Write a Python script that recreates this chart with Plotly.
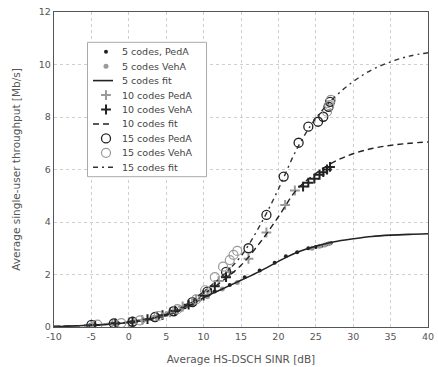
import plotly.graph_objects as go

# ---- data ----
fit_x = [-10, -7.5, -5, -2.5, 0, 2.5, 5, 7.5, 10, 12.5, 15, 17.5, 20, 22.5, 25, 27.5, 30, 32.5, 35, 37.5, 40]
fit5 = [0.02, 0.04, 0.07, 0.11, 0.17, 0.28, 0.45, 0.72, 1.12, 1.45, 1.78, 2.12, 2.5, 2.85, 3.08, 3.25, 3.36, 3.45, 3.5, 3.53, 3.55]
fit10 = [0.02, 0.04, 0.07, 0.11, 0.18, 0.3, 0.48, 0.78, 1.25, 1.75, 2.35, 3.2, 4.2, 5.25, 5.85, 6.3, 6.6, 6.8, 6.92, 7.0, 7.05]
fit15 = [0.02, 0.04, 0.07, 0.11, 0.18, 0.3, 0.5, 0.82, 1.35, 1.95, 2.7, 3.85, 5.25, 6.8, 7.95, 8.75, 9.35, 9.8, 10.1, 10.32, 10.45]

c5_peda_x = [-5.2, -2.0, 0.3, 2.0, 4.0, 5.8, 7.5, 9.5, 11.5, 13.5, 15.5, 17.5, 19.5, 21.0, 22.5, 24.0, 25.0, 25.8, 26.5, 27.0]
c5_peda_y = [0.07, 0.12, 0.18, 0.25, 0.38, 0.55, 0.75, 1.05, 1.35, 1.6, 1.9, 2.15, 2.45, 2.7, 2.85, 3.0, 3.05, 3.1, 3.15, 3.2]
c5_veha_x = [-4.8, -1.5, 0.8, 3.0, 5.0, 7.0, 8.8, 10.5, 12.5, 14.5, 24.5, 25.5, 26.2, 26.8]
c5_veha_y = [0.08, 0.14, 0.2, 0.32, 0.48, 0.68, 0.9, 1.15, 1.45, 1.7, 3.0, 3.08, 3.12, 3.18]

c10_peda_x = [-5.0, -2.2, 0.0, 1.8, 3.8, 5.5, 7.2, 9.0, 10.5, 12.0, 13.5, 16.0, 18.4, 20.9, 22.2]
c10_peda_y = [0.07, 0.13, 0.18, 0.27, 0.42, 0.56, 0.78, 1.05, 1.35, 1.75, 2.1, 2.6, 3.6, 4.65, 5.2]
c10_veha_x = [-4.5, -1.8, 0.5, 2.5, 4.5, 6.2, 8.0, 10.0, 11.5, 13.0, 23.3, 24.0, 24.8, 25.5, 26.0, 26.5, 26.9]
c10_veha_y = [0.08, 0.14, 0.2, 0.3, 0.45, 0.62, 0.85, 1.2, 1.55, 1.9, 5.35, 5.5, 5.65, 5.8, 5.9, 6.0, 6.1]

c15_peda_x = [-5.0, -2.0, 0.5, 3.5, 6.0, 8.5, 10.5, 13.0, 16.0, 18.4, 20.7, 22.7, 24.0, 25.3, 26.0, 26.7, 26.9]
c15_peda_y = [0.08, 0.14, 0.2, 0.38, 0.6, 0.95, 1.35, 2.1, 3.0, 4.27, 5.73, 7.02, 7.63, 7.82, 8.01, 8.39, 8.58]
c15_veha_x = [-4.2, -1.0, 1.5, 4.0, 6.5, 9.0, 10.2, 11.5, 12.6, 13.5, 14.0, 14.5, 26.5, 26.8, 27.0]
c15_veha_y = [0.09, 0.15, 0.25, 0.42, 0.68, 1.05, 1.4, 1.9, 2.3, 2.55, 2.75, 2.9, 8.2, 8.45, 8.65]

x_ticks = [-10, -5, 0, 5, 10, 15, 20, 25, 30, 35, 40]
y_ticks = [0, 2, 4, 6, 8, 10, 12]

legend_labels = ["5 codes, PedA", "5 codes VehA", "5 codes fit",
                 "10 codes PedA", "10 codes VehA", "10 codes fit",
                 "15 codes PedA", "15 codes VehA", "15 codes fit"]

FONT = "DejaVu Sans, Verdana, sans-serif"
DARK = "#222222"
GREY = "#9a9a9a"
TXT = "#555555"

XR = [-10, 40]
YR = [0, 12]

# style per series (same order as legend_labels)
styles = [
    dict(kind="m", marker=dict(symbol="circle", size=4, color=DARK)),
    dict(kind="m", marker=dict(symbol="circle", size=5, color=GREY)),
    dict(kind="l", line=dict(color=DARK, width=1.6, dash="solid")),
    dict(kind="m", marker=dict(symbol="cross-thin", size=7, color=GREY, line=dict(color=GREY, width=2))),
    dict(kind="m", marker=dict(symbol="cross-thin", size=7, color=DARK, line=dict(color=DARK, width=2))),
    dict(kind="l", line=dict(color=DARK, width=1.4, dash="6px,4px")),
    dict(kind="m", marker=dict(symbol="circle-open", size=9, color=DARK, line=dict(color=DARK, width=1.3))),
    dict(kind="m", marker=dict(symbol="circle-open", size=9, color=GREY, line=dict(color=GREY, width=1.2))),
    dict(kind="l", line=dict(color="#333333", width=1.4, dash="5px,4px,2px,4px")),
]
series = [
    (c5_peda_x, c5_peda_y), (c5_veha_x, c5_veha_y), (fit_x, fit5),
    (c10_peda_x, c10_peda_y), (c10_veha_x, c10_veha_y), (fit_x, fit10),
    (c15_peda_x, c15_peda_y), (c15_veha_x, c15_veha_y), (fit_x, fit15),
]

fig = go.Figure()
for (sx, sy), st, name in zip(series, styles, legend_labels):
    if st["kind"] == "m":
        fig.add_trace(go.Scatter(x=sx, y=sy, mode="markers", name=name, marker=st["marker"],
                                 showlegend=False))
    else:
        fig.add_trace(go.Scatter(x=sx, y=sy, mode="lines", name=name, line=st["line"],
                                 line_shape="spline", showlegend=False))

# ---- hand-made compact legend, placed via the plot's own axes ----
PL, PR, PT, PB = 54, 428, 12, 327
pw, ph = PR - PL, PB - PT
fx = lambda px: XR[0] + (px - PL) / pw * (XR[1] - XR[0])
fy = lambda py: YR[0] + (PB - py) / ph * (YR[1] - YR[0])

row0, drow = 51.7, 14.45
sym_x, line_x0, line_x1, text_x = 106, 93, 113, 120
for i, (st, name) in enumerate(zip(styles, legend_labels)):
    yy = fy(row0 + i * drow)
    if st["kind"] == "m":
        fig.add_trace(go.Scatter(x=[fx(sym_x)], y=[yy], mode="markers", marker=st["marker"],
                                 showlegend=False, hoverinfo="skip"))
    else:
        fig.add_trace(go.Scatter(x=[fx(line_x0), fx(line_x1)], y=[yy, yy], mode="lines",
                                 line=st["line"], showlegend=False, hoverinfo="skip"))
    fig.add_annotation(x=fx(text_x), y=yy, xref="x", yref="y", text=name, showarrow=False,
                       xanchor="left", yanchor="middle", font=dict(family=FONT, size=9.5, color="#444444"))

fig.add_shape(type="rect", xref="x", yref="y", x0=fx(87.5), x1=fx(206.5),
              y0=fy(176.7), y1=fy(42.3),
              line=dict(color="#aaaaaa", width=1), fillcolor="white", layer="between")

axis_common = dict(showline=True, linecolor="#555555", linewidth=1.2, mirror=True,
                   showgrid=True, gridcolor="#cfcfcf", griddash="dot", gridwidth=1,
                   zeroline=False, ticks="", automargin=False, ticklabeloverflow="allow",
                   tickfont=dict(family=FONT, size=9.5, color=TXT))

fig.update_xaxes(range=XR, tickvals=x_ticks, ticktext=[str(v) for v in x_ticks],
                 title=dict(text="Average HS-DSCH SINR [dB]", font=dict(family=FONT, size=10.5, color=TXT), standoff=15),
                 **axis_common)
fig.update_yaxes(range=YR, tickvals=y_ticks, ticktext=[str(v) for v in y_ticks],
                 title=dict(text="Average single-user throughput [Mb/s]", font=dict(family=FONT, size=10.5, color=TXT), standoff=16),
                 **axis_common)

fig.update_layout(
    width=438, height=367,
    margin=dict(l=PL, r=438 - PR, t=PT, b=367 - PB),
    paper_bgcolor="white", plot_bgcolor="white",
    font=dict(family=FONT, color="#444444"),
    showlegend=False,
)

fig.write_html("out.html", config={"displayModeBar": False, "staticPlot": True},
               post_script="document.body.style.margin='0';document.body.style.padding='0';")
